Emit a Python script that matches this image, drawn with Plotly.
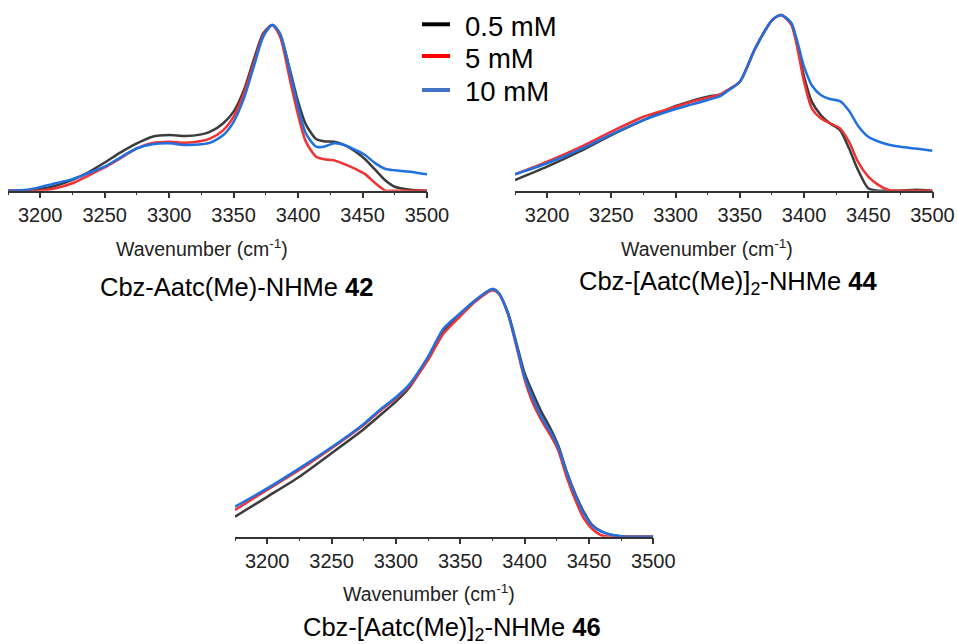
import plotly.graph_objects as go

# ---------------- data ----------------
series_names = ["0.5 mM", "5 mM", "10 mM"]
curve_colors = ["#3c3c3c", "#f03232", "#2070e0"]
legend_colors = ["#000000", "#ff0000", "#4472c4"]

# Panel A: Cbz-Aatc(Me)-NHMe 42
wn_a = [3175, 3190, 3200, 3212, 3225, 3237, 3250, 3262, 3275, 3287, 3300, 3312, 3325, 3332,
        3342, 3350, 3358, 3366, 3373, 3380, 3386, 3394, 3400, 3406, 3414, 3420, 3428, 3436,
        3446, 3452, 3460, 3468, 3475, 3487, 3500]
a_05 = [0, 0.003, 0.01, 0.03, 0.065, 0.11, 0.17, 0.23, 0.286, 0.326, 0.336, 0.33, 0.34, 0.356,
        0.407, 0.477, 0.608, 0.80, 0.95, 1.0, 0.94, 0.72, 0.537, 0.40, 0.312, 0.298, 0.295, 0.275,
        0.228, 0.19, 0.125, 0.06, 0.024, 0.006, 0]
a_5 = [0, 0, 0, 0.015, 0.045, 0.09, 0.14, 0.195, 0.255, 0.288, 0.296, 0.29, 0.30, 0.316,
       0.366, 0.447, 0.588, 0.778, 0.94, 1.0, 0.93, 0.658, 0.457, 0.296, 0.205, 0.19, 0.183, 0.16,
       0.125, 0.10, 0.045, 0.0, 0, 0, 0]
a_10 = [0, 0.006, 0.022, 0.045, 0.07, 0.105, 0.145, 0.20, 0.256, 0.28, 0.286, 0.276, 0.28, 0.29,
        0.336, 0.416, 0.557, 0.758, 0.93, 1.0, 0.95, 0.708, 0.507, 0.346, 0.266, 0.265, 0.286, 0.276,
        0.24, 0.215, 0.165, 0.131, 0.123, 0.115, 0.099]

# Panel B: Cbz-[Aatc(Me)]2-NHMe 44
wn_b = [3175, 3200, 3225, 3250, 3275, 3300, 3312, 3325, 3335, 3340, 3350, 3362, 3375, 3382,
        3390, 3400, 3406, 3413, 3420, 3428, 3435, 3442, 3450, 3458, 3466, 3475, 3487, 3500]
b_05 = [0.061, 0.137, 0.222, 0.317, 0.402, 0.482, 0.51, 0.535, 0.548, 0.57, 0.62, 0.81, 0.97, 1.0,
        0.953, 0.649, 0.507, 0.431, 0.384, 0.345, 0.241, 0.118, 0.014, 0, 0, 0, 0.005, 0]
b_5 = [0.093, 0.165, 0.245, 0.336, 0.421, 0.478, 0.505, 0.529, 0.548, 0.57, 0.62, 0.81, 0.97, 1.0,
       0.945, 0.62, 0.469, 0.412, 0.384, 0.355, 0.279, 0.165, 0.08, 0.032, 0.004, 0, 0, 0]
b_10 = [0.093, 0.156, 0.232, 0.321, 0.402, 0.465, 0.49, 0.516, 0.54, 0.565, 0.62, 0.81, 0.97, 1.0,
        0.955, 0.706, 0.60, 0.545, 0.522, 0.51, 0.455, 0.37, 0.307, 0.28, 0.262, 0.25, 0.24, 0.228]

# Panel C: Cbz-[Aatc(Me)]2-NHMe 46
wn_c = [3175, 3200, 3225, 3250, 3275, 3287, 3300, 3310, 3325, 3337, 3350, 3362, 3375, 3380,
        3387, 3394, 3400, 3406, 3413, 3420, 3426, 3433, 3440, 3446, 3452, 3460, 3468, 3480, 3500]
c_05 = [0.081, 0.161, 0.242, 0.337, 0.434, 0.487, 0.545, 0.599, 0.72, 0.83, 0.90, 0.956, 1.0, 0.983,
        0.905, 0.775, 0.66, 0.585, 0.505, 0.438, 0.37, 0.258, 0.165, 0.10, 0.05, 0.02, 0.007, 0, 0]
c_5 = [0.108, 0.189, 0.269, 0.357, 0.451, 0.505, 0.559, 0.606, 0.713, 0.82, 0.89, 0.95, 0.995, 0.98,
       0.90, 0.76, 0.635, 0.545, 0.471, 0.41, 0.35, 0.236, 0.141, 0.074, 0.034, 0.005, 0, 0, 0]
c_10 = [0.121, 0.195, 0.276, 0.361, 0.455, 0.51, 0.563, 0.612, 0.727, 0.84, 0.902, 0.956, 1.0, 0.983,
        0.902, 0.767, 0.646, 0.565, 0.484, 0.424, 0.363, 0.256, 0.161, 0.094, 0.047, 0.02, 0.007, 0, 0]

tick_vals = [3200, 3250, 3300, 3350, 3400, 3450, 3500]
tick_text = ["3200", "3250", "3300", "3350", "3400", "3450", "3500"]
axis_title = "Wavenumber (cm<sup>-1</sup>)"
panel_titles = ["Cbz-Aatc(Me)-NHMe <b>42</b>",
                "Cbz-[Aatc(Me)]<sub>2</sub>-NHMe <b>44</b>",
                "Cbz-[Aatc(Me)]<sub>2</sub>-NHMe <b>46</b>"]

# ---------------- figure ----------------
W, H = 957, 644
FONT = "Liberation Sans, Arial, sans-serif"

def px(x):
    return x / W

def py(y):
    return 1 - y / H

panels = [
    (wn_a, [a_05, a_5, a_10]),
    (wn_b, [b_05, b_5, b_10]),
    (wn_c, [c_05, c_5, c_10]),
]

fig = go.Figure()
for i, (wn, ys) in enumerate(panels):
    sfx = "" if i == 0 else str(i + 1)
    for j, y in enumerate(ys):
        fig.add_trace(go.Scatter(
            x=wn, y=y, mode="lines", name=series_names[j], showlegend=False,
            line=dict(color=curve_colors[j], width=2.5, shape="spline", smoothing=0.7),
            xaxis="x" + sfx, yaxis="y" + sfx, hoverinfo="skip"))

# (x domain px, base px, peak px, yrange top)
geo = [((8, 427), 190.7, 25, 1.06),
       ((515, 932.5), 190.7, 15, 1.06),
       ((235, 653.3), 536.7, 289, 1.04)]

layout = dict(width=W, height=H, margin=dict(l=0, r=0, t=0, b=0, autoexpand=False),
              autosize=False,
              paper_bgcolor="white", plot_bgcolor="white", showlegend=False,
              font=dict(family=FONT, color="#222"))

for i, ((x0, x1), base, peak, top) in enumerate(geo):
    sfx = "" if i == 0 else str(i + 1)
    unit = base - peak
    top_px = base - unit * top
    layout["xaxis" + sfx] = dict(
        domain=[px(x0), px(x1)], range=[3175, 3500], anchor="y" + sfx, automargin=False,
        tickmode="array", tickvals=tick_vals, ticktext=tick_text,
        showline=True, linecolor="#333", linewidth=1.5,
        ticks="outside", ticklen=6, tickwidth=1.5, tickcolor="#333",
        minor=dict(dtick=25, tick0=3175, ticks="outside", ticklen=3, tickwidth=1.2, tickcolor="#333"),
        showgrid=False, zeroline=False, fixedrange=True,
        tickfont=dict(size=20, family=FONT, color="#222"))
    layout["yaxis" + sfx] = dict(
        domain=[py(base), py(top_px)], range=[0, top], anchor="x" + sfx, automargin=False,
        visible=False, showgrid=False, zeroline=False, fixedrange=True)

annotations = []
# axis titles
for (x, y) in [(202, 248), (707, 248), (428.5, 593.3)]:
    annotations.append(dict(text=axis_title, x=px(x), y=py(y), xref="paper", yref="paper",
                            xanchor="center", yanchor="middle", showarrow=False,
                            font=dict(size=19.5, family=FONT, color="#222")))
# panel titles
for t, (x, y) in zip(panel_titles, [(236.5, 287), (728, 283), (451.7, 629)]):
    annotations.append(dict(text=t, x=px(x), y=py(y), xref="paper", yref="paper",
                            xanchor="center", yanchor="middle", showarrow=False,
                            font=dict(size=25.5, family=FONT, color="#000")))

# legend
shapes = []
leg_line_y = [24.3, 56, 90]
leg_text_y = [26.7, 59, 91.7]
for j in range(3):
    shapes.append(dict(type="line", xref="paper", yref="paper",
                       x0=px(422), x1=px(450), y0=py(leg_line_y[j]), y1=py(leg_line_y[j]),
                       line=dict(color=legend_colors[j], width=4)))
    annotations.append(dict(text=series_names[j], x=px(463), y=py(leg_text_y[j]),
                            xref="paper", yref="paper", xanchor="left", yanchor="middle",
                            showarrow=False, font=dict(size=27.5, family=FONT, color="#000")))

layout["annotations"] = annotations
layout["shapes"] = shapes
fig.update_layout(**layout)
fig.write_html("out.html", config={"displayModeBar": False},
               post_script="document.body.style.margin='0';document.body.style.overflow='hidden';")
